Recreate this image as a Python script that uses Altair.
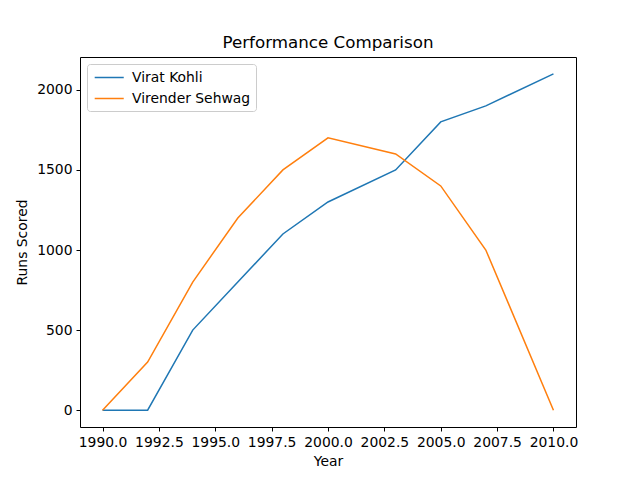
import altair as alt
import pandas as pd

years = [1990, 1992, 1994, 1996, 1998, 2000, 2003, 2005, 2007, 2010]
kohli_runs = [0, 0, 500, 800, 1100, 1300, 1500, 1800, 1900, 2100]
sehwag_runs = [0, 300, 800, 1200, 1500, 1700, 1600, 1400, 1000, 0]
players = ["Virat Kohli", "Virender Sehwag"]
colors = ["#1f77b4", "#ff7f0e"]

df = pd.concat([
    pd.DataFrame({"Year": years, "Runs": kohli_runs, "Player": players[0]}),
    pd.DataFrame({"Year": years, "Runs": sehwag_runs, "Player": players[1]}),
])

font = "DejaVu Sans"

chart = alt.Chart(df).mark_line(strokeWidth=1.5).encode(
    x=alt.X("Year:Q",
            scale=alt.Scale(domain=[1989, 2011], nice=False, zero=False),
            axis=alt.Axis(values=[1990, 1992.5, 1995, 1997.5, 2000, 2002.5, 2005, 2007.5, 2010],
                          format=".1f", title="Year")),
    y=alt.Y("Runs:Q",
            scale=alt.Scale(domain=[-105, 2205], nice=False, zero=False),
            axis=alt.Axis(values=[0, 500, 1000, 1500, 2000], format="d", title="Runs Scored")),
    color=alt.Color("Player:N",
                    scale=alt.Scale(domain=players, range=colors),
                    legend=alt.Legend(title=None, orient="none", legendX=7, legendY=7,
                                      symbolType="M-0.75,0H3", symbolSize=240,
                                      symbolStrokeWidth=1.5,
                                      labelFontSize=13.9, labelFont=font, labelColor="black",
                                      fillColor="white", strokeColor="#cccccc",
                                      cornerRadius=3, padding=5, rowPadding=5,
                                      labelOffset=23, labelLimit=300)),
).properties(
    width=496,
    height=370,
    title=alt.TitleParams("Performance Comparison", fontSize=16.7, font=font,
                          fontWeight="normal", color="black", anchor="middle", offset=5),
    autosize=alt.AutoSizeParams(type="none"),
    padding={"left": 80, "top": 57, "right": 64, "bottom": 53},
).configure_view(
    stroke="black", strokeWidth=1
).configure_axis(
    grid=False, domain=False,
    tickColor="black", tickSize=4, tickWidth=1,
    labelFont=font, labelFontSize=13.9, labelColor="black", labelPadding=4,
    titleFont=font, titleFontSize=13.9, titleColor="black", titleFontWeight="normal",
).configure_axisX(
    titlePadding=6
).configure_axisY(
    titlePadding=7
)

chart.save("out.html", embed_options={"renderer": "svg", "actions": False})
